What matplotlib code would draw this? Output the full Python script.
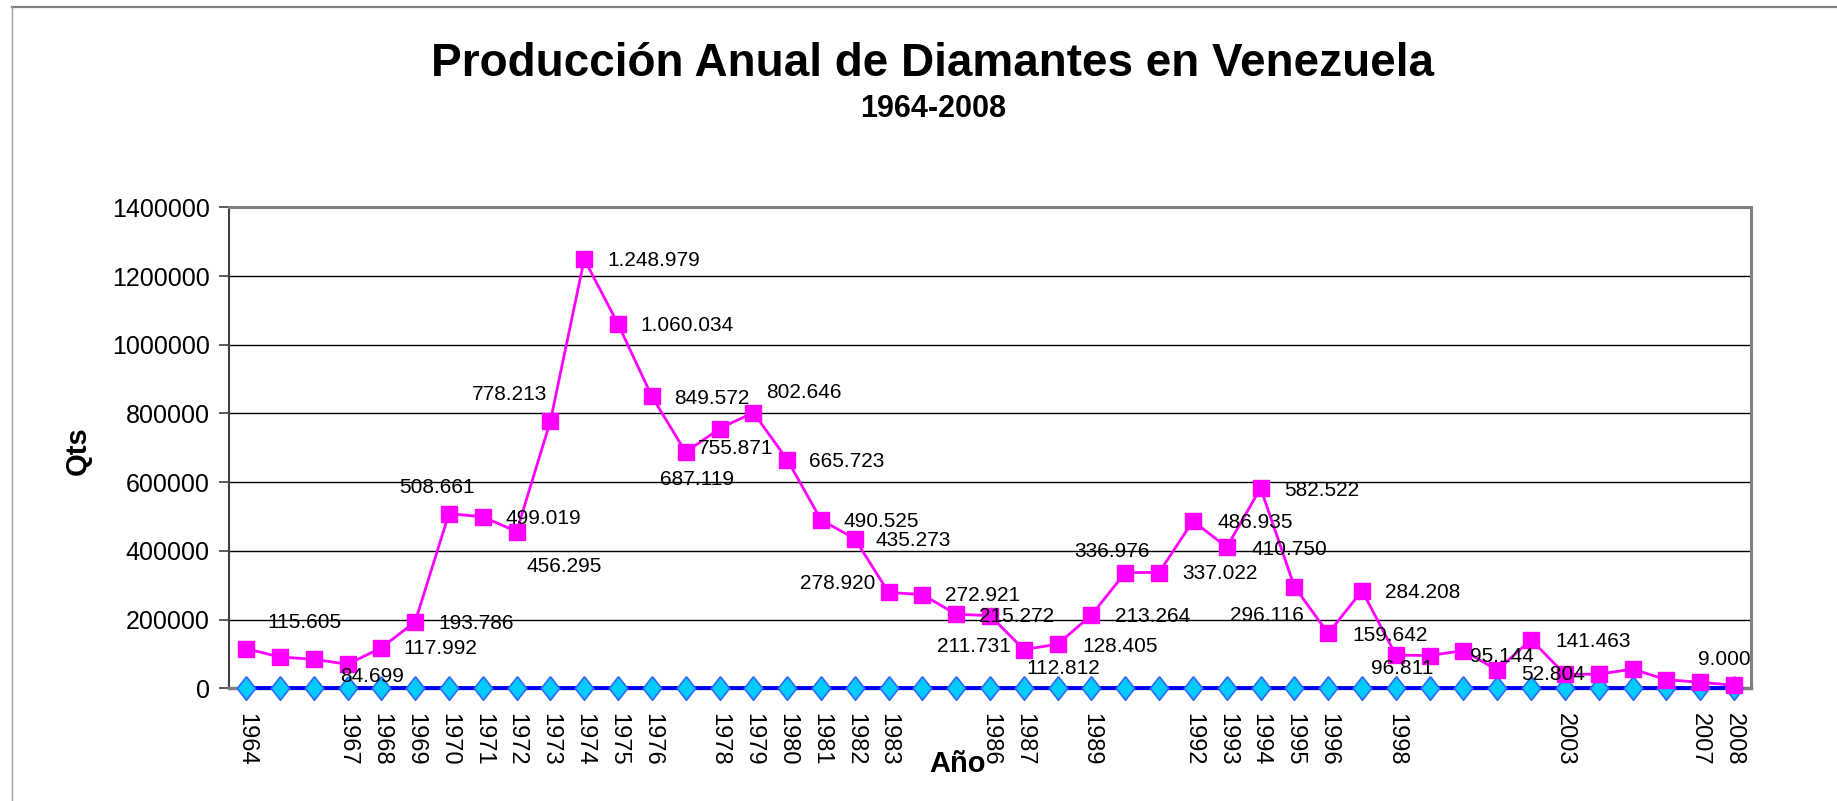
import matplotlib
matplotlib.use("Agg")
import matplotlib.pyplot as plt
from matplotlib.lines import Line2D

plt.rcParams['font.family'] = ['Liberation Sans', 'DejaVu Sans']

# ---------------- data ----------------
years = list(range(1964, 2009))
produccion = [115605, 91000, 84699, 70000, 117992, 193786, 508661, 499019, 456295,
              778213, 1248979, 1060034, 849572, 687119, 755871, 802646, 665723,
              490525, 435273, 278920, 272921, 215272, 211731, 112812, 128405,
              213264, 336976, 337022, 486935, 410750, 582522, 296116, 159642,
              284208, 96811, 95144, 110000, 52804, 141463, 40800, 41000, 56000,
              25000, 17500, 9000]
serie_base = [0, 0, 0, 0, 0, 0, 0, 0, 0, 0, 0, 0, 0, 0, 0, 0, 0, 0, 0, 0, 0, 0, 0,
              0, 0, 0, 0, 0, 0, 0, 0, 0, 0, 0, 0, 0, 0, 0, 0, 0, 0, 0, 0, 0, 0]
shown_years = [1964, 1967, 1968, 1969, 1970, 1971, 1972, 1973, 1974, 1975, 1976,
               1978, 1979, 1980, 1981, 1982, 1983, 1986, 1987, 1989, 1992, 1993,
               1994, 1995, 1996, 1998, 2003, 2007, 2008]
y_ticks = [0, 200000, 400000, 600000, 800000, 1000000, 1200000, 1400000]

title = "Producción Anual de Diamantes en Venezuela"
subtitle = "1964-2008"

# labelled years and where their (moved) labels sit: (year, x in category units, y in data units)
label_layout = [
    (1964, 0.62, 192100), (1966, 2.77, 33760), (1968, 4.64, 114400),
    (1969, 5.70, 189200), (1970, 4.52, 585900), (1971, 7.66, 494800),
    (1972, 8.28, 353900), (1973, 6.69, 853700), (1974, 10.69, 1244600),
    (1975, 11.67, 1055400), (1976, 12.67, 844100), (1979, 15.37, 861500),
    (1978, 13.36, 698500), (1977, 12.24, 608300), (1980, 16.66, 659600),
    (1981, 17.68, 486900), (1983, 16.39, 305600), (1982, 18.62, 431600),
    (1984, 20.66, 269500), (1985, 21.67, 210400), (1986, 20.43, 121100),
    (1987, 23.08, 56200), (1988, 24.73, 123100), (1989, 25.69, 208400),
    (1990, 24.48, 397600), (1991, 27.67, 332700), (1992, 28.72, 482000),
    (1993, 29.74, 404600), (1994, 30.71, 574300), (1995, 29.09, 211300),
    (1997, 33.68, 278300), (1996, 32.71, 155100), (1998, 33.27, 56200),
    (1999, 36.19, 92000), (2002, 38.73, 135600), (2001, 37.71, 41600),
    (2008, 42.94, 84400),
]

# ---------------- figure ----------------
W, H = 1837, 801
fig = plt.figure(figsize=(W / 100, H / 100), dpi=100)
ax = fig.add_axes([229.2 / W, 1 - 688.3 / H, (1750.9 - 229.2) / W, (688.3 - 207.3) / H])

# outer chart frame (top and left edges)
fig.add_artist(Line2D([12 / W, 1], [1 - 7 / H, 1 - 7 / H], transform=fig.transFigure,
                      color='#808080', lw=1.6))
fig.add_artist(Line2D([12 / W, 12 / W], [0, 1 - 7 / H], transform=fig.transFigure,
                      color='#a0a0a0', lw=1.0))

x = list(range(len(years)))

diamond = [(0, 1), (0.78, 0), (0, -1), (-0.78, 0), (0, 1)]
ax.plot(x, serie_base, color='#0000FF', lw=2.8, marker=diamond, markersize=17,
        markerfacecolor='#00CCFF', markeredgecolor='#3366FF', markeredgewidth=1.2,
        clip_on=False, zorder=4)
ax.plot(x, produccion, color='#FF00FF', lw=2.0, marker='s', markersize=11.5,
        markerfacecolor='#FF00FF', markeredgecolor='#FF00FF', clip_on=False, zorder=5)

vals = dict(zip(years, produccion))
for yr, lx, ly in label_layout:
    txt = f"{vals[yr]:,}".replace(",", ".")
    ax.text(lx, ly, txt, ha='left', va='center', fontsize=15, color='black',
            zorder=6, clip_on=False)

ax.set_xlim(-0.5, len(years) - 0.5)
ax.set_ylim(0, 1400000)
ax.set_yticks(y_ticks)
ax.set_yticklabels([str(v) for v in y_ticks], fontsize=18)
ax.tick_params(axis='y', length=7, width=1.2, color='#404040', pad=7)

ax.set_xticks([years.index(y) for y in shown_years])
ax.set_xticklabels([str(y) for y in shown_years], rotation=-90, fontsize=17,
                   va='top', ha='center')
ax.tick_params(axis='x', length=0, pad=18)

for v in y_ticks[1:-1]:
    ax.axhline(v, color='black', lw=1.0, zorder=1)

ax.spines['top'].set_color('#808080')
ax.spines['top'].set_linewidth(2.2)
ax.spines['right'].set_color('#808080')
ax.spines['right'].set_linewidth(2.2)
ax.spines['left'].set_color('#404040')
ax.spines['left'].set_linewidth(1.5)
ax.spines['bottom'].set_color('#808080')
ax.spines['bottom'].set_linewidth(2.5)

fig.text(932 / W, 1 - 64 / H, title, ha='center', va='center', fontsize=33,
         fontweight='bold')
fig.text(933 / W, 1 - 109 / H, subtitle, ha='center', va='center', fontsize=22,
         fontweight='bold')
fig.text(77.5 / W, 1 - 451 / H, "Qts", ha='center', va='center', fontsize=21,
         fontweight='bold', rotation=90)
fig.text(958 / W, 1 - 764 / H, "Año", ha='center', va='center', fontsize=21,
         fontweight='bold', zorder=10)

fig.savefig("out.png", dpi=100, facecolor='white')
